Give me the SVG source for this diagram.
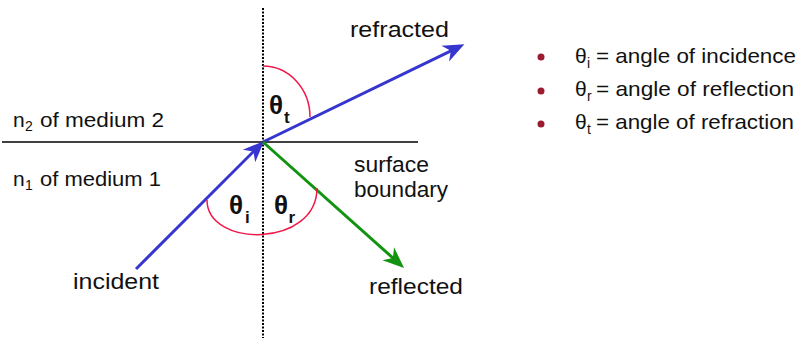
<svg xmlns="http://www.w3.org/2000/svg" width="802" height="338" viewBox="0 0 802 338">
<style>
text{font-family:"Liberation Sans",Arial,sans-serif;fill:#111}
.lbl{font-size:22.5px}
.nl{font-size:21px}
.th{font-size:26px;font-weight:bold}
.thsub{font-size:17px;font-weight:bold}
.leg{font-size:21px}
.sub{font-size:14px}
.blue{stroke:#3636cf;stroke-width:3;fill:none}
.green{stroke:#129412;stroke-width:3;fill:none}
.arc{stroke:#f0184a;stroke-width:1.5;fill:none}
</style>
<defs>
<marker id="ab" markerUnits="userSpaceOnUse" orient="auto" markerWidth="30" markerHeight="30" refX="-6" refY="0" viewBox="-20 -10 24 20" overflow="visible">
<path d="M0,0 L-17,-7 L-12,0 L-17,7 Z" fill="#3636cf"/>
</marker>
<marker id="ag" markerUnits="userSpaceOnUse" orient="auto" markerWidth="30" markerHeight="30" refX="-6" refY="0" viewBox="-20 -10 24 20" overflow="visible">
<path d="M0,0 L-17,-7 L-12,0 L-17,7 Z" fill="#129412"/>
</marker>
</defs>
<rect width="802" height="338" fill="#fff"/>
<g id="surface">
<line x1="2" y1="142" x2="418" y2="142" stroke="#000" stroke-width="1.5"/>
</g>
<g id="normal">
<line x1="263" y1="8" x2="263" y2="338" stroke="#000" stroke-width="2" stroke-dasharray="2,1.5"/>
</g>
<g id="connectors">
<line class="blue" x1="136" y1="269" x2="258.76" y2="146.24" marker-end="url(#ab)"/>
<line class="blue" x1="263" y1="142" x2="457.6" y2="47.6" marker-end="url(#ab)"/>
<line class="green" x1="263" y1="142" x2="398.5" y2="263" marker-end="url(#ag)"/>
</g>
<g id="arcs">
<path class="arc" d="M207,200 C207,248 317,248 317,188"/>
<path class="arc" d="M263,66 A47,51 0 0 1 310,117"/>
</g>
<g id="labels">
<text class="lbl" x="350" y="37" textLength="99" lengthAdjust="spacingAndGlyphs">refracted</text>
<text class="lbl" x="73" y="289" textLength="86" lengthAdjust="spacingAndGlyphs">incident</text>
<text class="lbl" x="369" y="294" textLength="94" lengthAdjust="spacingAndGlyphs">reflected</text>
<text class="lbl" x="354" y="172" textLength="75" lengthAdjust="spacingAndGlyphs">surface</text>
<text class="lbl" x="354" y="197" textLength="94" lengthAdjust="spacingAndGlyphs">boundary</text>
<text class="nl" x="13" y="127">n<tspan class="sub" x="25" y="131">2</tspan><tspan x="40" y="127" textLength="124" lengthAdjust="spacingAndGlyphs">of medium 2</tspan></text>
<text class="nl" x="13" y="186">n<tspan class="sub" x="25" y="190">1</tspan><tspan x="40" y="186" textLength="121" lengthAdjust="spacingAndGlyphs">of medium 1</tspan></text>
</g>
<g id="angles">
<text class="th" x="229" y="214">θ<tspan class="thsub" x="245" y="223">i</tspan></text>
<text class="th" x="274" y="214">θ<tspan class="thsub" x="288.5" y="223">r</tspan></text>
<text class="th" x="269" y="114">θ<tspan class="thsub" x="284" y="123">t</tspan></text>
</g>
<g id="legend">
<circle cx="541" cy="57" r="3.5" fill="#9b1b30"/>
<circle cx="541" cy="91" r="3.5" fill="#9b1b30"/>
<circle cx="541" cy="124" r="3.5" fill="#9b1b30"/>
<text class="leg" x="575" y="63">θ<tspan class="sub" x="587" y="68">i</tspan><tspan x="596" y="63" textLength="200" lengthAdjust="spacingAndGlyphs">= angle of incidence</tspan></text>
<text class="leg" x="575" y="96">θ<tspan class="sub" x="587" y="101">r</tspan><tspan x="596" y="96" textLength="198" lengthAdjust="spacingAndGlyphs">= angle of reflection</tspan></text>
<text class="leg" x="575" y="129">θ<tspan class="sub" x="587" y="134">t</tspan><tspan x="596" y="129" textLength="198" lengthAdjust="spacingAndGlyphs">= angle of refraction</tspan></text>
</g>
</svg>
